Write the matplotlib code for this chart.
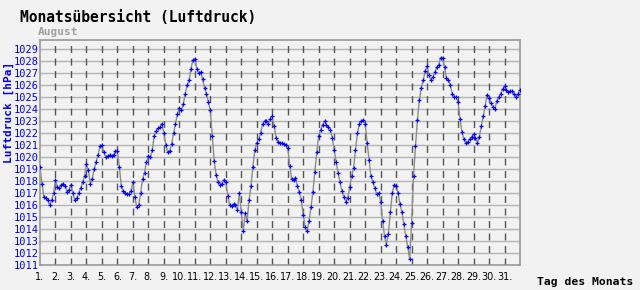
import numpy as np
import matplotlib
matplotlib.use('Agg')
import matplotlib.pyplot as plt

# Luftdruck readings, 3-hourly, 8 per day for August 1..31 plus the end point
day_1 = [1019.2, 1017.8, 1016.7, 1016.6, 1016.4, 1016.0, 1016.4, 1017.0]
day_2 = [1018.1, 1017.5, 1017.4, 1017.7, 1017.8, 1017.6, 1017.1, 1017.3]
day_3 = [1017.7, 1017.0, 1016.4, 1016.6, 1017.0, 1017.4, 1017.9, 1018.4]
day_4 = [1019.4, 1018.9, 1017.8, 1018.2, 1019.0, 1019.6, 1020.2, 1020.9]
day_5 = [1021.0, 1020.4, 1020.0, 1020.1, 1020.2, 1020.1, 1020.2, 1020.5]
day_6 = [1020.5, 1019.2, 1017.6, 1017.2, 1017.0, 1016.9, 1016.9, 1017.2]
day_7 = [1017.9, 1016.7, 1015.8, 1016.0, 1017.0, 1018.2, 1018.7, 1019.6]
day_8 = [1020.1, 1020.0, 1020.6, 1021.8, 1022.2, 1022.4, 1022.5, 1022.8]
day_9 = [1022.0, 1021.0, 1020.4, 1020.5, 1021.1, 1022.0, 1022.8, 1023.6]
day_10 = [1024.1, 1023.9, 1024.4, 1025.3, 1026.0, 1026.4, 1027.4, 1028.1]
day_11 = [1028.2, 1027.4, 1027.0, 1027.1, 1026.5, 1025.8, 1025.3, 1024.6]
day_12 = [1023.9, 1021.8, 1019.7, 1018.5, 1017.9, 1017.7, 1017.8, 1018.1]
day_13 = [1017.9, 1016.8, 1016.0, 1015.9, 1016.1, 1016.0, 1015.6, 1017.0]
day_14 = [1015.4, 1013.8, 1015.3, 1014.7, 1016.4, 1017.6, 1019.2, 1020.6]
day_15 = [1021.2, 1021.5, 1022.0, 1022.8, 1023.0, 1023.0, 1022.8, 1023.2]
day_16 = [1023.4, 1022.6, 1021.6, 1021.3, 1021.2, 1021.2, 1021.1, 1021.0]
day_17 = [1020.8, 1019.3, 1018.2, 1018.1, 1018.3, 1017.6, 1017.1, 1016.4]
day_18 = [1015.2, 1014.2, 1013.8, 1014.7, 1015.8, 1017.1, 1018.8, 1020.4]
day_19 = [1021.8, 1022.3, 1022.7, 1023.0, 1022.7, 1022.5, 1022.3, 1021.6]
day_20 = [1020.6, 1019.6, 1018.7, 1017.9, 1017.2, 1016.7, 1016.3, 1016.6]
day_21 = [1017.5, 1018.4, 1019.1, 1020.6, 1022.0, 1022.8, 1023.0, 1023.1]
day_22 = [1022.8, 1021.2, 1019.8, 1018.4, 1017.9, 1017.4, 1016.9, 1017.0]
day_23 = [1016.3, 1014.7, 1013.4, 1012.7, 1013.6, 1015.4, 1017.0, 1017.7]
day_24 = [1017.6, 1017.0, 1016.1, 1015.4, 1014.4, 1013.4, 1012.5, 1011.5]
day_25 = [1014.5, 1018.4, 1020.9, 1023.1, 1024.8, 1025.8, 1026.4, 1027.2]
day_26 = [1027.6, 1026.9, 1026.4, 1026.7, 1027.1, 1027.5, 1027.7, 1028.3]
day_27 = [1028.3, 1027.5, 1026.6, 1026.4, 1026.0, 1025.3, 1025.0, 1025.0]
day_28 = [1024.6, 1023.2, 1022.1, 1021.5, 1021.2, 1021.3, 1021.5, 1021.7]
day_29 = [1021.9, 1021.6, 1021.2, 1021.7, 1022.6, 1023.4, 1024.3, 1025.2]
day_30 = [1024.9, 1024.5, 1024.2, 1024.0, 1024.7, 1025.0, 1025.3, 1025.7]
day_31 = [1025.9, 1025.6, 1025.4, 1025.5, 1025.5, 1025.3, 1025.0, 1025.3]
end_value = [1025.6]

days = list(range(1, 32))
day_labels = [f'{d}.' for d in days]
y_ticks = list(range(1011, 1030))

pressure = (day_1 + day_2 + day_3 + day_4 + day_5 + day_6 + day_7 + day_8 +
            day_9 + day_10 + day_11 + day_12 + day_13 + day_14 + day_15 +
            day_16 + day_17 + day_18 + day_19 + day_20 + day_21 + day_22 +
            day_23 + day_24 + day_25 + day_26 + day_27 + day_28 + day_29 +
            day_30 + day_31 + end_value)
time = 1 + np.arange(len(pressure)) / 8.0

bg = '#f2f2f2'
mono = 'DejaVu Sans Mono'

fig = plt.figure(figsize=(6.4, 2.9), dpi=100, facecolor=bg)
ax = fig.add_axes([40 / 640, 1 - 265 / 290, 480 / 640, 225 / 290], facecolor=bg)

# grid
for y in y_ticks[1:]:
    ax.axhline(y, color='#b4b4b4', lw=1, zorder=1)
for d in days[1:]:
    ax.axvline(d, color='#555555', lw=1, linestyle=(0, (5, 4)), zorder=1)

ax.plot(time, pressure, color='#8c8c8c', lw=1, zorder=2)
ax.plot(time, pressure, linestyle='none', marker='+', markersize=3,
        markeredgewidth=0.9, color='#0000ff', zorder=3)

ax.set_xlim(1, 32)
ax.set_ylim(1011, 1029.78)
ax.set_xticks(days)
# proportional font so that "10." etc. fit between the day lines
ax.set_xticklabels(day_labels, fontsize=6.9, family='DejaVu Sans')
ax.set_yticks(y_ticks)
ax.set_yticklabels([str(y) for y in y_ticks], fontsize=7.5, family=mono,
                   color='#0000ff')
ax.tick_params(axis='both', length=0)
ax.tick_params(axis='x', pad=5)
ax.tick_params(axis='y', pad=1)

for side in ax.spines.values():
    side.set_color('#999999')
    side.set_linewidth(1.2)

fig.text(20 / 640, 1 - 18 / 290, 'Monatsübersicht (Luftdruck)', family=mono,
         fontsize=10.5, fontweight='bold', va='center', ha='left')
fig.text(38 / 640, 1 - 32 / 290, 'August', family=mono, fontsize=8,
         fontweight='bold', color='#a0a0a0', va='center', ha='left')
fig.text(9 / 640, 1 - 112 / 290, 'Luftdruck [hPa]', family=mono, fontsize=8,
         fontweight='bold', color='#0000ff', rotation=90, va='center', ha='center')
fig.text(537 / 640, 1 - 282 / 290, 'Tag des Monats', family=mono, fontsize=8.2,
         fontweight='bold', va='center', ha='left')

fig.savefig('out.png', dpi=100, facecolor=bg)
